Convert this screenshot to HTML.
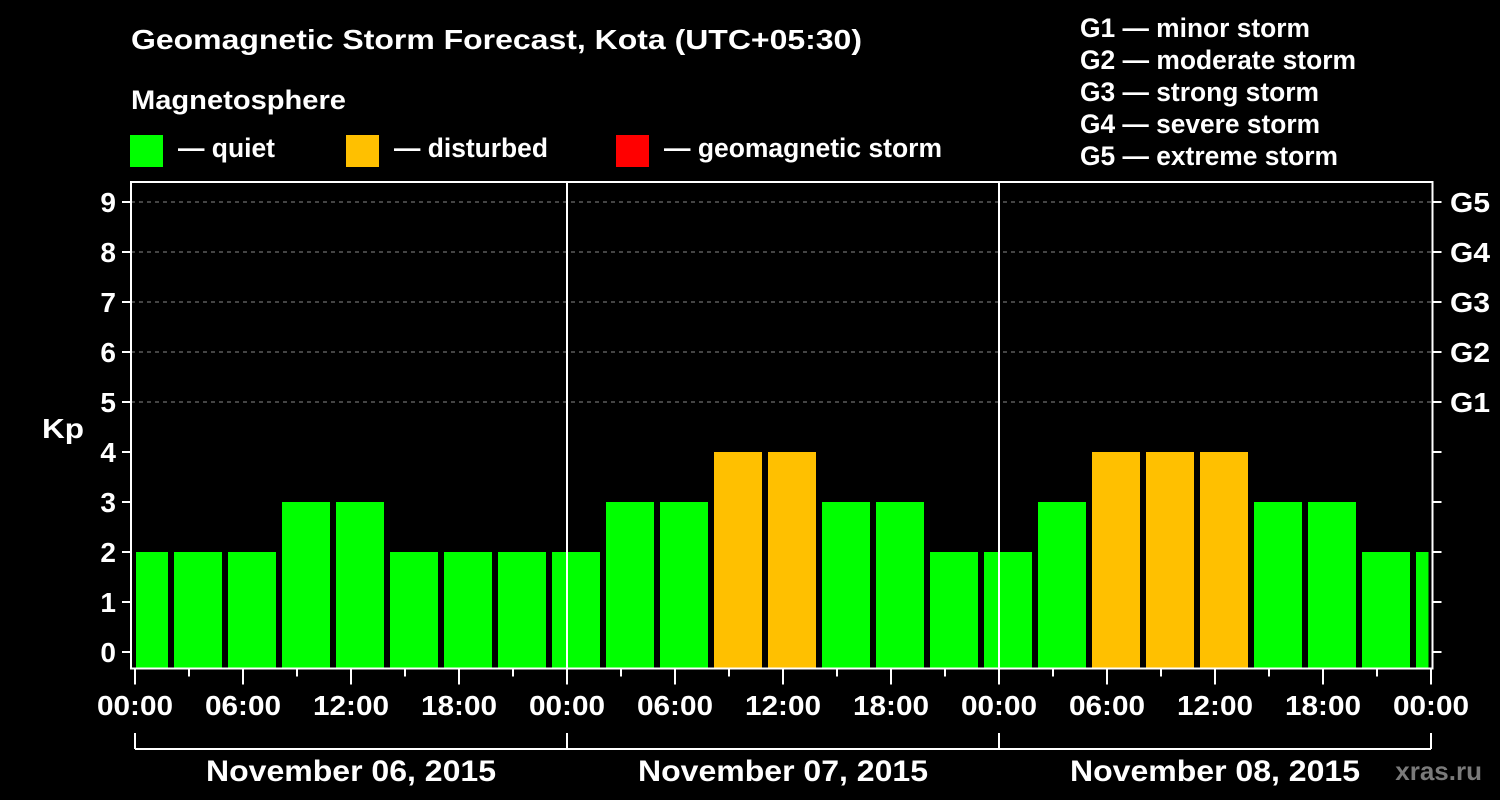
<!DOCTYPE html>
<html><head><meta charset="utf-8"><style>
html,body{margin:0;padding:0;background:#000;}
svg{display:block;font-family:"Liberation Sans",Arial,sans-serif;font-weight:bold;}
</style></head><body>
<svg id="chart" width="1500" height="800" viewBox="0 0 1500 800" xmlns="http://www.w3.org/2000/svg">
<rect x="0" y="0" width="1500" height="800" fill="#000"/>
<text x="131" y="49" fill="#fff" font-size="28" textLength="731" lengthAdjust="spacingAndGlyphs">Geomagnetic Storm Forecast, Kota (UTC+05:30)</text>
<text x="131" y="109" fill="#fff" font-size="27" textLength="215" lengthAdjust="spacingAndGlyphs">Magnetosphere</text>
<g>
<rect x="130" y="135" width="33" height="32" fill="#00ff00"/>
<text x="178" y="157" fill="#fff" font-size="27" textLength="97" lengthAdjust="spacingAndGlyphs">— quiet</text></g>
<g>
<rect x="346" y="135" width="33" height="32" fill="#ffc000"/>
<text x="394" y="157" fill="#fff" font-size="27" textLength="154" lengthAdjust="spacingAndGlyphs">— disturbed</text></g>
<g>
<rect x="616" y="135" width="33" height="32" fill="#ff0000"/>
<text x="664" y="157" fill="#fff" font-size="27" textLength="278" lengthAdjust="spacingAndGlyphs">— geomagnetic storm</text></g>
<g fill="#fff" font-size="27">
<text x="1080" y="37" textLength="230" lengthAdjust="spacingAndGlyphs">G1 — minor storm</text>
<text x="1080" y="69" textLength="276" lengthAdjust="spacingAndGlyphs">G2 — moderate storm</text>
<text x="1080" y="101" textLength="239" lengthAdjust="spacingAndGlyphs">G3 — strong storm</text>
<text x="1080" y="133" textLength="240" lengthAdjust="spacingAndGlyphs">G4 — severe storm</text>
<text x="1080" y="165" textLength="258" lengthAdjust="spacingAndGlyphs">G5 — extreme storm</text>
</g>
<text x="42" y="438" fill="#fff" font-size="28" textLength="42" lengthAdjust="spacingAndGlyphs">Kp</text>
<text x="1482" y="780" fill="#7a7a7a" font-size="26" text-anchor="end">xras.ru</text>
<g id="grid"></g><g id="bars"></g><g id="axes"></g>
</svg>
<script>
var kpValues=[2,2,2,3,3,2,2,2,2,3,3,4,4,3,3,2,2,3,4,4,4,3,3,2,2];
var yTicks=[0,1,2,3,4,5,6,7,8,9];
var gLabels=["G1","G2","G3","G4","G5"];
var gLevels=[5,6,7,8,9];
var xLabels=["00:00","06:00","12:00","18:00","00:00","06:00","12:00","18:00","00:00","06:00","12:00","18:00","00:00"];
var dayLabels=["November 06, 2015","November 07, 2015","November 08, 2015"];
var binStartHour=-1;
var NS="http://www.w3.org/2000/svg";
var L=131,R=1432.5,T=182,B=668.5,X0=135,PXH=18;
function x(h){return X0+h*PXH;}
function y(k){return 652-k*50;}
function mk(tag,attrs,parent){var e=document.createElementNS(NS,tag);for(var k in attrs)e.setAttribute(k,attrs[k]);parent.appendChild(e);return e;}
var grid=document.getElementById('grid'),bars=document.getElementById('bars'),axes=document.getElementById('axes');
gLevels.forEach(function(v){
var ln=mk('line',{x1:L,x2:R,y1:y(v),y2:y(v),stroke:'#888','stroke-dasharray':'4,4','stroke-width':1},grid);


});
kpValues.forEach(function(v,i){
var s=x(binStartHour+3*i)+3,e=x(binStartHour+3*i+3)-3;
s=Math.max(s,L+5);e=Math.min(e,R-4);
if(e<=s)return;
var c=v>=5?'#ff0000':(v>=4?'#ffc000':'#00ff00');
var r=mk('rect',{x:s,y:y(v),width:e-s,height:B-y(v),fill:c},bars);


});
for(var d=1;d<3;d++){
var dl=mk('line',{x1:x(24*d),x2:x(24*d),y1:T,y2:B,stroke:'#fff','stroke-width':2},axes);


}
var fr=mk('rect',{x:L,y:T,width:R-L,height:B-T,fill:'none',stroke:'#fff','stroke-width':2},axes);


yTicks.forEach(function(v){
mk('line',{x1:L-9,x2:L,y1:y(v),y2:y(v),stroke:'#fff','stroke-width':2},axes);
mk('line',{x1:R,x2:R+9,y1:y(v),y2:y(v),stroke:'#fff','stroke-width':2},axes);
var t=mk('text',{x:116,y:y(v)+10,fill:'#fff','font-size':28,'text-anchor':'end'},axes);
t.textContent=v;


});
gLabels.forEach(function(g,i){
var t=mk('text',{x:1450,y:y(gLevels[i])+10,fill:'#fff','font-size':28,textLength:40,lengthAdjust:'spacingAndGlyphs'},axes);
t.textContent=g;


});
for(var h=0;h<=72;h+=3){
var major=h%6===0;
mk('line',{x1:x(h),x2:x(h),y1:B,y2:B+(major?16:8),stroke:'#fff','stroke-width':2},axes);
}
xLabels.forEach(function(lb,i){
var t=mk('text',{x:x(6*i)-38,y:715,fill:'#fff','font-size':28,textLength:76,lengthAdjust:'spacingAndGlyphs'},axes);
t.textContent=lb;


});
mk('line',{x1:x(0),x2:x(72),y1:749,y2:749,stroke:'#fff','stroke-width':2},axes);
for(var d2=0;d2<=3;d2++){mk('line',{x1:x(24*d2),x2:x(24*d2),y1:733,y2:749,stroke:'#fff','stroke-width':2},axes);}
dayLabels.forEach(function(lb,i){
var t=mk('text',{x:x(24*i+12)-145,y:781,fill:'#fff','font-size':30,textLength:290,lengthAdjust:'spacingAndGlyphs'},axes);
t.textContent=lb;


});
</script>
</body></html>
